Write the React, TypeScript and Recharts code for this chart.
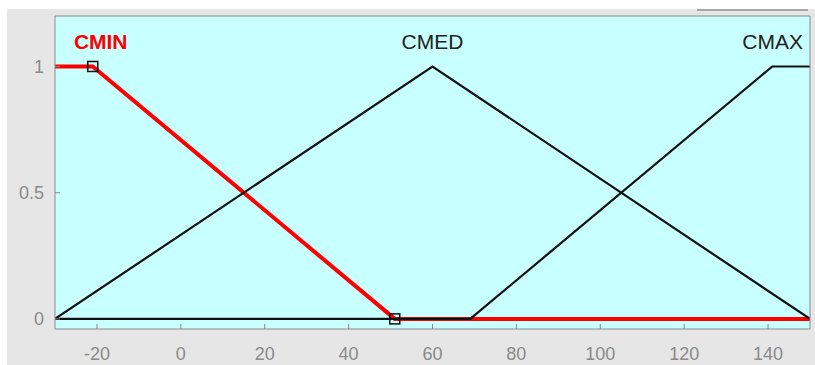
import {
  ComposedChart,
  Line,
  Scatter,
  XAxis,
  YAxis,
  CartesianGrid,
} from 'recharts'

// Membership functions of the "C" input, sampled at their breakpoints
const cminX = [-30, -21, 51, 150]
const cminY = [1, 1, 0, 0]
const cmedX = [-30, 60, 150]
const cmedY = [0, 1, 0]
const cmaxX = [-30, 69, 141, 150]
const cmaxY = [0, 0, 1, 1]

const mfNames = ['CMIN', 'CMED', 'CMAX']
const xTicks = [-20, 0, 20, 40, 60, 80, 100, 120, 140]
const yTicks = [0, 0.5, 1]

const X_DOMAIN = [-30, 150]
const Y_DOMAIN = [-0.04, 1.2]

const AXIS_GRAY = '#8a8a8a'
const TICK_FONT = { fontSize: 18, fill: '#8a8a8a', fontFamily: 'Liberation Sans, Arial, sans-serif' }

const toPoints = (xs: number[], ys: number[]) => xs.map((x, i) => ({ x, y: ys[i] }))

const cmin = toPoints(cminX, cminY)
const cmed = toPoints(cmedX, cmedY)
const cmax = toPoints(cmaxX, cmaxY)

// selected MF gets square handles on its shoulder points
const handles = [cmin[1], cmin[2]]

// label anchors: middle of each plateau at membership 1, clamped to the axis
const plateauMid = (pts: { x: number; y: number }[]) => {
  const top = pts.filter(p => p.y === 1).map(p => p.x)
  return (Math.min(...top) + Math.max(...top)) / 2
}
const labels = [
  { x: plateauMid(cmin), y: 1, name: mfNames[0] },
  { x: plateauMid(cmed), y: 1, name: mfNames[1] },
  { x: X_DOMAIN[1], y: 1, name: mfNames[2] },
]

const HandleShape = (props: any) => {
  const { cx, cy } = props
  if (cx == null || cy == null) return null
  return <rect x={cx - 5} y={cy - 5} width={10} height={10} fill="none" stroke="#111" strokeWidth={1.5} />
}

const LabelShape = (props: any) => {
  const { cx, cy, payload } = props
  if (cx == null || cy == null) return null
  const selected = payload.name === mfNames[0]
  const anchor = payload.name === mfNames[0] ? 'start' : payload.name === mfNames[2] ? 'end' : 'middle'
  const dx = anchor === 'end' ? -7 : 0
  return (
    <text
      x={cx + dx}
      y={cy - 17}
      textAnchor={anchor}
      fontSize={21}
      fontWeight={selected ? 'bold' : 'normal'}
      fill={selected ? '#ff0000' : '#222'}
      fontFamily="Liberation Sans, Arial, sans-serif"
    >
      {payload.name}
    </text>
  )
}

export default function App() {
  return (
    <div style={{ position: 'fixed', left: 0, top: 0, width: 815, height: 365, background: '#fff', overflow: 'hidden' }}>
      <div style={{ position: 'absolute', left: 7, top: 9, right: 0, bottom: 0, background: '#e6e6e6' }} />
      <div style={{ position: 'absolute', left: 697, top: 9, width: 111, height: 2, background: '#a8a8a8' }} />
      <div style={{ position: 'absolute', left: 0, top: 0 }}>
        <ComposedChart width={815} height={365} margin={{ top: 15, right: 4, left: 0, bottom: 0 }}>
          <CartesianGrid horizontal={false} vertical={false} fill="#c8ffff" fillOpacity={1} />
          <XAxis
            dataKey="x"
            type="number"
            domain={X_DOMAIN}
            ticks={xTicks}
            allowDataOverflow
            height={36}
            tickSize={-5}
            tickMargin={23}
            stroke={AXIS_GRAY}
            tick={TICK_FONT}
          />
          <XAxis
            xAxisId="top"
            orientation="top"
            type="number"
            domain={X_DOMAIN}
            ticks={xTicks}
            allowDataOverflow
            height={1}
            tickSize={-5}
            tick={false}
            stroke={AXIS_GRAY}
          />
          <YAxis
            dataKey="y"
            type="number"
            domain={Y_DOMAIN}
            ticks={yTicks}
            allowDataOverflow
            width={55}
            tickSize={-5}
            tickMargin={16}
            stroke={AXIS_GRAY}
            tick={TICK_FONT}
          />
          <YAxis
            yAxisId="right"
            orientation="right"
            type="number"
            domain={Y_DOMAIN}
            ticks={yTicks}
            allowDataOverflow
            width={1}
            tickSize={-5}
            tick={false}
            stroke={AXIS_GRAY}
          />

          <Line data={cmin} dataKey="y" stroke="#ff0000" strokeWidth={4} dot={false} isAnimationActive={false} />
          <Line data={cmed} dataKey="y" stroke="#111" strokeWidth={2.2} dot={false} isAnimationActive={false} />
          <Line data={cmax} dataKey="y" stroke="#111" strokeWidth={2.2} dot={false} isAnimationActive={false} />

          <Scatter data={handles} dataKey="y" shape={<HandleShape />} isAnimationActive={false} />
          <Scatter data={labels} dataKey="y" shape={<LabelShape />} isAnimationActive={false} />
        </ComposedChart>
      </div>
    </div>
  )
}
